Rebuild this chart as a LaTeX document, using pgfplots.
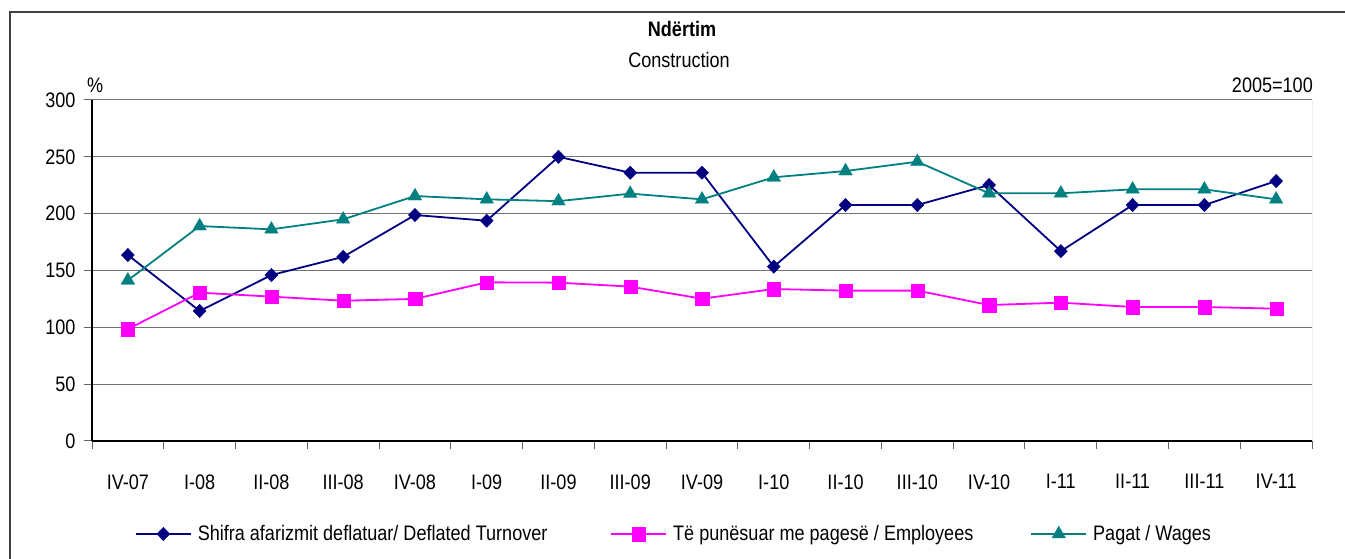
\documentclass[border=0pt]{standalone}
\usepackage{pgfplots}
\pgfplotsset{compat=1.18}
\usepackage{fontspec}
\setmainfont{Liberation Sans}[FakeStretch=0.86]
\definecolor{cNavy}{RGB}{0,0,128}
\definecolor{cMag}{RGB}{255,0,255}
\definecolor{cTeal}{RGB}{0,128,128}
\newcommand{\chartfont}{\fontsize{21bp}{24bp}\selectfont}
\begin{document}
\begin{tikzpicture}[x=1bp,y=1bp]
\useasboundingbox (0,0) rectangle (1345,559);
\draw[line width=1.5bp, black!75] (10,0) -- (10,547) -- (1345,547);
\node[anchor=base, font=\chartfont\bfseries] at (682,522) {Ndërtim};
\node[anchor=base, font=\chartfont] at (679,491) {Construction};
\node[anchor=base west, inner sep=0pt, font=\chartfont] at (87,466) {\%};
\node[anchor=base east, inner sep=0pt, font=\chartfont] at (1313,466) {2005=100};
\begin{axis}[
  at={(92bp,118bp)}, anchor=south west,
  scale only axis, width=1220bp, height=341bp,
  xmin=-0.5, xmax=16.5, ymin=0, ymax=300,
  xtick={0,...,16},
  xticklabels={IV-07,I-08,II-08,III-08,IV-08,I-09,II-09,III-09,IV-09,I-10,II-10,III-10,IV-10,I-11,II-11,III-11,IV-11},
  minor xtick={-0.5,0.5,...,16.5},
  major x tick style={draw=none},
  ytick={0,50,...,300},
  tick align=outside,
  major tick length=8bp, minor tick length=8bp,
  tick style={black!60, line width=1bp},
  axis lines*=left,
  axis line style={-, black, line width=1.3bp},
  ymajorgrids, grid style={black!55, line width=1bp},
  tick label style={font=\chartfont},
  /pgf/number format/assume math mode=true,
  yticklabel style={xshift=-5bp},
  xticklabel style={yshift=-22bp},
  legend columns=3,
  legend style={draw=none, fill=none, inner sep=0pt, outer sep=0pt,
    at={(0.0352,-0.2727)}, anchor=west, font=\chartfont,
    nodes={inner sep=0pt},
    /tikz/every odd column/.append style={column sep=6bp},
    /tikz/column 2/.style={column sep=63bp},
    /tikz/column 4/.style={column sep=57bp}},
  legend cell align=left,
  legend image code/.code={\draw[mark repeat=2,mark phase=2] plot coordinates {(0bp,0bp) (27.5bp,0bp) (55bp,0bp)};},
]
\draw[black!55, line width=1bp] (rel axis cs:1,0) -- (rel axis cs:1,1);
\addplot[cNavy, line width=1.8bp, mark=diamond*, mark size=6.6bp, mark options={xscale=1.3, fill=cNavy, draw=cNavy, line width=0.5bp}] coordinates {
(0,163.6) (1,114.4) (2,146) (3,162) (4,198.8) (5,193.8) (6,250) (7,236) (8,236) (9,153.4) (10,207.6) (11,207.6) (12,225.2) (13,167) (14,207.6) (15,207.6) (16,228.7)};
\addlegendentry{Shifra afarizmit deflatuar/ Deflated Turnover}
\addplot[cMag, line width=1.8bp, mark=square*, mark size=6.6bp, mark options={fill=cMag, draw=cMag, line width=0.1bp}] coordinates {
(0,98.5) (1,130.5) (2,127) (3,123.4) (4,125) (5,139.6) (6,139.3) (7,135.8) (8,125.2) (9,133.7) (10,132.3) (11,132.3) (12,119.6) (13,121.7) (14,117.9) (15,117.9) (16,116.4)};
\addlegendentry{Të punësuar me pagesë / Employees}
\addplot[cTeal, line width=1.8bp, mark=triangle*, mark size=8bp, mark options={fill=cTeal, draw=cTeal, line width=0.1bp}] coordinates {
(0,141.4) (1,189.1) (2,186.2) (3,195) (4,215.5) (5,212.6) (6,211) (7,217.6) (8,212.6) (9,232) (10,237.5) (11,245.7) (12,217.9) (13,217.9) (14,221.4) (15,221.4) (16,212.6)};
\addlegendentry{Pagat / Wages}
\end{axis}
\end{tikzpicture}
\end{document}
